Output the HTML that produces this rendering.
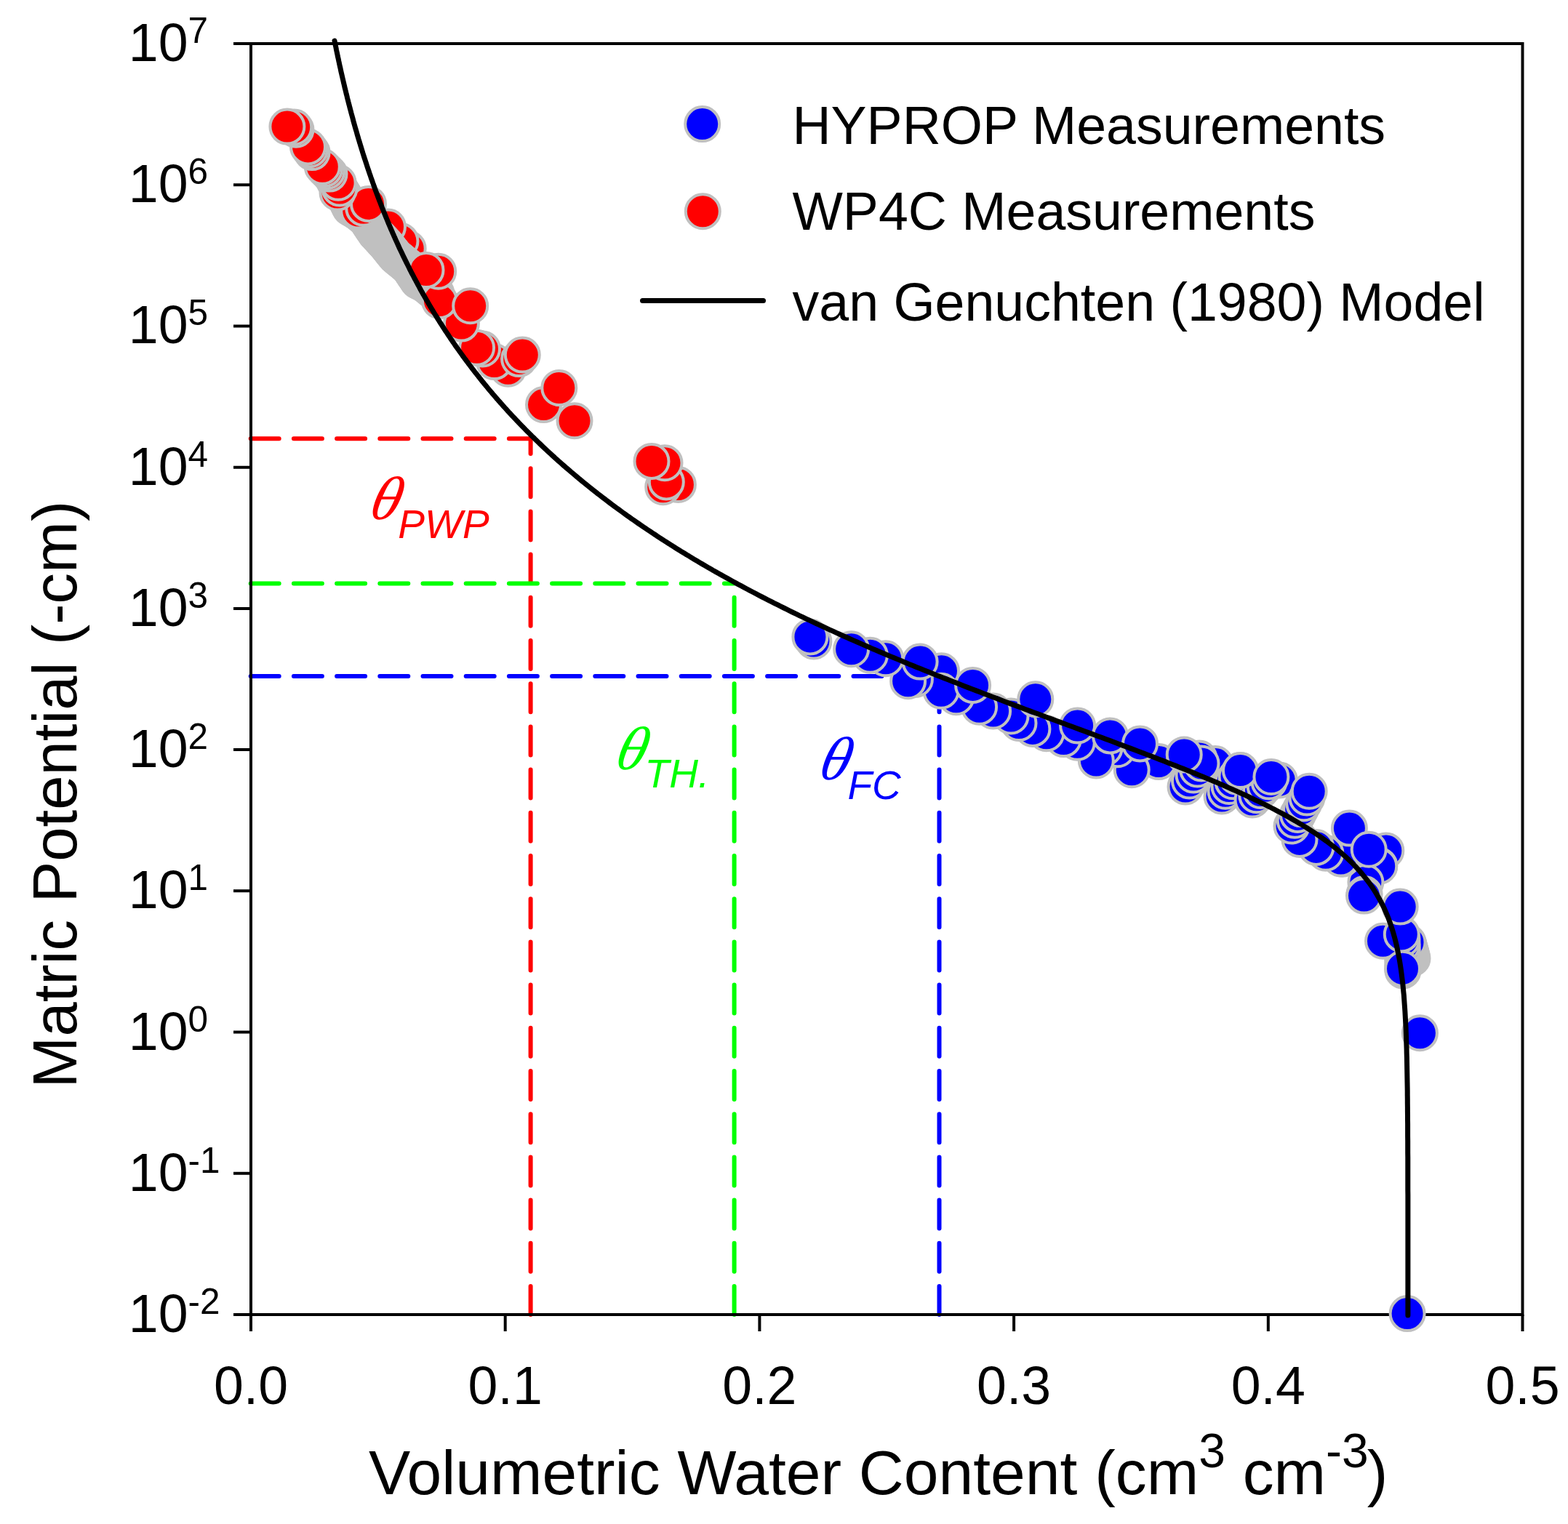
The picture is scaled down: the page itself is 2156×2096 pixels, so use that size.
<!DOCTYPE html>
<html><head><meta charset="utf-8"><title>Soil water retention curve</title>
<style>
html,body{margin:0;padding:0;background:#fff;width:2156px;height:2096px;overflow:hidden}
svg{display:block}
.t{font-size:73.5px}
.sup{font-size:49.5px}
.ax{font-size:85.8px}
.axs{font-size:66px}
.th{font-family:"Liberation Serif",serif;font-style:italic;font-size:84.6px}
.sub{font-family:"Liberation Sans",sans-serif;font-style:italic;font-size:55px}
</style></head><body>
<svg width="2156" height="2096" viewBox="0 0 2156 2096">
<rect width="2156" height="2096" fill="#fff"/>
<g fill="none" stroke-width="6" stroke-linecap="round" stroke-dasharray="39 20.2">
<path d="M344.7,603.2 H729.6" stroke="#ff0000"/>
<path d="M729.6,1808 V603.2" stroke="#ff0000"/>
<path d="M344.7,802.5 H1009.6" stroke="#00ff00"/>
<path d="M1009.6,1808 V802.5" stroke="#00ff00"/>
<path d="M344.7,929.9 H1291.5" stroke="#0000ff"/>
<path d="M1291.5,1808 V929.9" stroke="#0000ff"/>
</g>
<g fill="none" stroke="#000" stroke-width="4">
<rect x="345" y="60" width="1748.5" height="1748"/>
<path d="M321,60.0 H345 M321,254.2 H345 M321,448.4 H345 M321,642.7 H345 M321,836.9 H345 M321,1031.1 H345 M321,1225.3 H345 M321,1419.5 H345 M321,1613.8 H345 M321,1808.0 H345 M345.0,1808 V1831 M694.7,1808 V1831 M1044.4,1808 V1831 M1394.1,1808 V1831 M1743.8,1808 V1831 M2093.5,1808 V1831"/>
</g>
<g stroke="#c0c0c0" stroke-width="4"><circle cx="561.2" cy="342.0" r="23.5" fill="#ff0000"/><circle cx="551.0" cy="331.6" r="23.5" fill="#ff0000"/><circle cx="533.5" cy="312.0" r="23.5" fill="#ff0000"/><circle cx="459.4" cy="248.7" r="25.5" fill="#c0c0c0" stroke="none"/><circle cx="461.2" cy="251.3" r="25.5" fill="#c0c0c0" stroke="none"/><circle cx="463.0" cy="253.9" r="25.5" fill="#c0c0c0" stroke="none"/><circle cx="464.8" cy="256.5" r="25.5" fill="#c0c0c0" stroke="none"/><circle cx="466.6" cy="259.2" r="25.5" fill="#c0c0c0" stroke="none"/><circle cx="468.4" cy="261.8" r="25.5" fill="#c0c0c0" stroke="none"/><circle cx="470.2" cy="264.4" r="25.5" fill="#c0c0c0" stroke="none"/><circle cx="472.0" cy="267.0" r="25.5" fill="#c0c0c0" stroke="none"/><circle cx="473.3" cy="269.7" r="25.5" fill="#c0c0c0" stroke="none"/><circle cx="474.7" cy="272.4" r="25.5" fill="#c0c0c0" stroke="none"/><circle cx="476.0" cy="275.1" r="25.5" fill="#c0c0c0" stroke="none"/><circle cx="477.4" cy="277.8" r="25.5" fill="#c0c0c0" stroke="none"/><circle cx="478.7" cy="280.5" r="25.5" fill="#c0c0c0" stroke="none"/><circle cx="480.1" cy="283.2" r="25.5" fill="#c0c0c0" stroke="none"/><circle cx="481.4" cy="285.9" r="25.5" fill="#c0c0c0" stroke="none"/><circle cx="484.1" cy="287.5" r="25.5" fill="#c0c0c0" stroke="none"/><circle cx="486.8" cy="289.0" r="25.5" fill="#c0c0c0" stroke="none"/><circle cx="489.5" cy="290.6" r="25.5" fill="#c0c0c0" stroke="none"/><circle cx="492.2" cy="292.2" r="25.5" fill="#c0c0c0" stroke="none"/><circle cx="494.5" cy="294.1" r="25.5" fill="#c0c0c0" stroke="none"/><circle cx="496.7" cy="296.0" r="25.5" fill="#c0c0c0" stroke="none"/><circle cx="499.0" cy="297.8" r="25.5" fill="#c0c0c0" stroke="none"/><circle cx="501.2" cy="299.7" r="25.5" fill="#c0c0c0" stroke="none"/><circle cx="503.5" cy="301.6" r="25.5" fill="#c0c0c0" stroke="none"/><circle cx="505.1" cy="304.0" r="25.5" fill="#c0c0c0" stroke="none"/><circle cx="506.6" cy="306.3" r="25.5" fill="#c0c0c0" stroke="none"/><circle cx="508.2" cy="308.7" r="25.5" fill="#c0c0c0" stroke="none"/><circle cx="509.8" cy="311.1" r="25.5" fill="#c0c0c0" stroke="none"/><circle cx="511.4" cy="313.4" r="25.5" fill="#c0c0c0" stroke="none"/><circle cx="513.0" cy="315.8" r="25.5" fill="#c0c0c0" stroke="none"/><circle cx="514.5" cy="318.1" r="25.5" fill="#c0c0c0" stroke="none"/><circle cx="516.1" cy="320.5" r="25.5" fill="#c0c0c0" stroke="none"/><circle cx="518.2" cy="322.8" r="25.5" fill="#c0c0c0" stroke="none"/><circle cx="520.3" cy="325.0" r="25.5" fill="#c0c0c0" stroke="none"/><circle cx="522.4" cy="327.3" r="25.5" fill="#c0c0c0" stroke="none"/><circle cx="524.6" cy="329.6" r="25.5" fill="#c0c0c0" stroke="none"/><circle cx="526.7" cy="331.9" r="25.5" fill="#c0c0c0" stroke="none"/><circle cx="528.8" cy="334.1" r="25.5" fill="#c0c0c0" stroke="none"/><circle cx="530.9" cy="336.4" r="25.5" fill="#c0c0c0" stroke="none"/><circle cx="532.7" cy="338.7" r="25.5" fill="#c0c0c0" stroke="none"/><circle cx="534.5" cy="340.9" r="25.5" fill="#c0c0c0" stroke="none"/><circle cx="536.3" cy="343.2" r="25.5" fill="#c0c0c0" stroke="none"/><circle cx="538.1" cy="345.4" r="25.5" fill="#c0c0c0" stroke="none"/><circle cx="539.9" cy="347.7" r="25.5" fill="#c0c0c0" stroke="none"/><circle cx="541.7" cy="349.9" r="25.5" fill="#c0c0c0" stroke="none"/><circle cx="543.5" cy="352.2" r="25.5" fill="#c0c0c0" stroke="none"/><circle cx="545.9" cy="354.2" r="25.5" fill="#c0c0c0" stroke="none"/><circle cx="548.2" cy="356.1" r="25.5" fill="#c0c0c0" stroke="none"/><circle cx="550.6" cy="358.1" r="25.5" fill="#c0c0c0" stroke="none"/><circle cx="553.0" cy="360.0" r="25.5" fill="#c0c0c0" stroke="none"/><circle cx="555.3" cy="362.0" r="25.5" fill="#c0c0c0" stroke="none"/><circle cx="557.7" cy="364.0" r="25.5" fill="#c0c0c0" stroke="none"/><circle cx="560.0" cy="365.9" r="25.5" fill="#c0c0c0" stroke="none"/><circle cx="562.4" cy="367.9" r="25.5" fill="#c0c0c0" stroke="none"/><circle cx="564.0" cy="370.3" r="25.5" fill="#c0c0c0" stroke="none"/><circle cx="565.5" cy="372.6" r="25.5" fill="#c0c0c0" stroke="none"/><circle cx="567.1" cy="375.0" r="25.5" fill="#c0c0c0" stroke="none"/><circle cx="568.7" cy="377.4" r="25.5" fill="#c0c0c0" stroke="none"/><circle cx="570.3" cy="379.7" r="25.5" fill="#c0c0c0" stroke="none"/><circle cx="571.9" cy="382.1" r="25.5" fill="#c0c0c0" stroke="none"/><circle cx="573.4" cy="384.4" r="25.5" fill="#c0c0c0" stroke="none"/><circle cx="575.0" cy="386.8" r="25.5" fill="#c0c0c0" stroke="none"/><circle cx="578.1" cy="388.3" r="25.5" fill="#c0c0c0" stroke="none"/><circle cx="581.1" cy="389.7" r="25.5" fill="#c0c0c0" stroke="none"/><circle cx="584.2" cy="391.2" r="25.5" fill="#c0c0c0" stroke="none"/><circle cx="586.5" cy="393.0" r="25.5" fill="#c0c0c0" stroke="none"/><circle cx="588.7" cy="394.8" r="25.5" fill="#c0c0c0" stroke="none"/><circle cx="591.0" cy="396.6" r="25.5" fill="#c0c0c0" stroke="none"/><circle cx="593.2" cy="398.4" r="25.5" fill="#c0c0c0" stroke="none"/><circle cx="595.5" cy="400.2" r="25.5" fill="#c0c0c0" stroke="none"/><circle cx="597.7" cy="402.0" r="25.5" fill="#c0c0c0" stroke="none"/><circle cx="600.0" cy="403.8" r="25.5" fill="#c0c0c0" stroke="none"/><circle cx="932.4" cy="666.5" r="23.5" fill="#ff0000"/><circle cx="911.7" cy="669.7" r="23.5" fill="#ff0000"/><circle cx="916.3" cy="662.9" r="23.5" fill="#ff0000"/><circle cx="914.0" cy="636.8" r="23.5" fill="#ff0000"/><circle cx="896.0" cy="634.4" r="23.5" fill="#ff0000"/><circle cx="747.5" cy="556.6" r="23.5" fill="#ff0000"/><circle cx="768.8" cy="533.5" r="23.5" fill="#ff0000"/><circle cx="790.0" cy="578.7" r="23.5" fill="#ff0000"/><circle cx="698.6" cy="507.3" r="23.5" fill="#ff0000"/><circle cx="679.7" cy="497.6" r="23.5" fill="#ff0000"/><circle cx="713.6" cy="493.6" r="23.5" fill="#ff0000"/><circle cx="718.3" cy="488.1" r="23.5" fill="#ff0000"/><circle cx="663.5" cy="480.0" r="23.5" fill="#ff0000"/><circle cx="655.6" cy="478.2" r="23.5" fill="#ff0000"/><circle cx="634.4" cy="445.1" r="23.5" fill="#ff0000"/><circle cx="604.4" cy="413.6" r="23.5" fill="#ff0000"/><circle cx="646.7" cy="420.7" r="23.5" fill="#ff0000"/><circle cx="602.7" cy="373.2" r="23.5" fill="#ff0000"/><circle cx="586.0" cy="371.5" r="23.5" fill="#ff0000"/><circle cx="492.7" cy="290.1" r="23.5" fill="#ff0000"/><circle cx="499.7" cy="286.3" r="23.5" fill="#ff0000"/><circle cx="506.5" cy="280.4" r="23.5" fill="#ff0000"/><circle cx="464.0" cy="265.0" r="23.5" fill="#ff0000"/><circle cx="467.0" cy="259.0" r="23.5" fill="#ff0000"/><circle cx="465.1" cy="251.3" r="23.5" fill="#ff0000"/><circle cx="453.0" cy="239.1" r="23.5" fill="#ff0000"/><circle cx="449.8" cy="235.8" r="23.5" fill="#ff0000"/><circle cx="446.5" cy="232.6" r="23.5" fill="#ff0000"/><circle cx="443.3" cy="229.3" r="23.5" fill="#ff0000"/><circle cx="429.1" cy="209.6" r="23.5" fill="#ff0000"/><circle cx="426.3" cy="205.7" r="23.5" fill="#ff0000"/><circle cx="423.5" cy="201.9" r="23.5" fill="#ff0000"/><circle cx="407.0" cy="178.3" r="23.5" fill="#ff0000"/><circle cx="404.7" cy="175.0" r="23.5" fill="#ff0000"/><circle cx="394.9" cy="174.1" r="23.5" fill="#ff0000"/><circle cx="1905.8" cy="1169.9" r="23.5" fill="#0000ff"/><circle cx="1896.8" cy="1190.6" r="23.5" fill="#0000ff"/><circle cx="1896.7" cy="1191.3" r="23.5" fill="#0000ff"/><circle cx="1877.9" cy="1213.2" r="23.5" fill="#0000ff"/><circle cx="1876.1" cy="1229.5" r="23.5" fill="#0000ff"/><circle cx="1846.0" cy="1181.2" r="23.5" fill="#0000ff"/><circle cx="1843.5" cy="1181.0" r="23.5" fill="#0000ff"/><circle cx="1822.8" cy="1173.3" r="23.5" fill="#0000ff"/><circle cx="1809.8" cy="1165.4" r="23.5" fill="#0000ff"/><circle cx="1787.0" cy="1154.4" r="23.5" fill="#0000ff"/><circle cx="1759.3" cy="1073.0" r="23.5" fill="#0000ff"/><circle cx="1705.4" cy="1059.6" r="23.5" fill="#0000ff"/><circle cx="1671.0" cy="1050.6" r="23.5" fill="#0000ff"/><circle cx="1649.0" cy="1043.0" r="23.5" fill="#0000ff"/><circle cx="1593.2" cy="1047.6" r="23.5" fill="#0000ff"/><circle cx="1556.2" cy="1058.7" r="23.5" fill="#0000ff"/><circle cx="1536.5" cy="1030.8" r="23.5" fill="#0000ff"/><circle cx="1519.0" cy="1028.7" r="23.5" fill="#0000ff"/><circle cx="1507.3" cy="1046.0" r="23.5" fill="#0000ff"/><circle cx="1481.3" cy="1021.3" r="23.5" fill="#0000ff"/><circle cx="1462.4" cy="1016.6" r="23.5" fill="#0000ff"/><circle cx="1438.8" cy="1008.7" r="23.5" fill="#0000ff"/><circle cx="1419.9" cy="1002.4" r="23.5" fill="#0000ff"/><circle cx="1401.0" cy="994.5" r="23.5" fill="#0000ff"/><circle cx="1390.0" cy="985.0" r="23.5" fill="#0000ff"/><circle cx="1365.6" cy="978.0" r="23.5" fill="#0000ff"/><circle cx="1346.6" cy="972.3" r="23.5" fill="#0000ff"/><circle cx="1314.8" cy="958.8" r="23.5" fill="#0000ff"/><circle cx="1294.5" cy="922.7" r="23.5" fill="#0000ff"/><circle cx="1294.0" cy="950.2" r="23.5" fill="#0000ff"/><circle cx="1258.4" cy="934.3" r="23.5" fill="#0000ff"/><circle cx="1248.6" cy="936.8" r="23.5" fill="#0000ff"/><circle cx="1217.8" cy="905.8" r="23.5" fill="#0000ff"/><circle cx="1196.4" cy="901.3" r="23.5" fill="#0000ff"/><circle cx="1118.9" cy="882.0" r="23.5" fill="#0000ff"/><circle cx="1630.0" cy="1082.0" r="23.5" fill="#0000ff"/><circle cx="1635.5" cy="1074.0" r="23.5" fill="#0000ff"/><circle cx="1641.0" cy="1066.0" r="23.5" fill="#0000ff"/><circle cx="1646.5" cy="1058.0" r="23.5" fill="#0000ff"/><circle cx="1652.0" cy="1050.0" r="23.5" fill="#0000ff"/><circle cx="1680.0" cy="1095.0" r="23.5" fill="#0000ff"/><circle cx="1685.0" cy="1088.2" r="23.5" fill="#0000ff"/><circle cx="1690.0" cy="1081.5" r="23.5" fill="#0000ff"/><circle cx="1695.0" cy="1074.8" r="23.5" fill="#0000ff"/><circle cx="1700.0" cy="1068.0" r="23.5" fill="#0000ff"/><circle cx="1722.0" cy="1100.0" r="23.5" fill="#0000ff"/><circle cx="1727.8" cy="1093.8" r="23.5" fill="#0000ff"/><circle cx="1733.5" cy="1087.5" r="23.5" fill="#0000ff"/><circle cx="1739.2" cy="1081.2" r="23.5" fill="#0000ff"/><circle cx="1745.0" cy="1075.0" r="23.5" fill="#0000ff"/><circle cx="1776.0" cy="1136.0" r="23.5" fill="#0000ff"/><circle cx="1780.2" cy="1128.2" r="23.5" fill="#0000ff"/><circle cx="1784.4" cy="1120.4" r="23.5" fill="#0000ff"/><circle cx="1788.6" cy="1112.6" r="23.5" fill="#0000ff"/><circle cx="1792.8" cy="1104.8" r="23.5" fill="#0000ff"/><circle cx="1797.0" cy="1097.0" r="23.5" fill="#0000ff"/><circle cx="1942.0" cy="1318.0" r="23.5" fill="#0000ff"/><circle cx="1941.2" cy="1315.2" r="23.5" fill="#0000ff"/><circle cx="1940.5" cy="1312.5" r="23.5" fill="#0000ff"/><circle cx="1939.8" cy="1309.8" r="23.5" fill="#0000ff"/><circle cx="1939.0" cy="1307.0" r="23.5" fill="#0000ff"/><circle cx="1938.2" cy="1304.2" r="23.5" fill="#0000ff"/><circle cx="1937.5" cy="1301.5" r="23.5" fill="#0000ff"/><circle cx="1936.8" cy="1298.8" r="23.5" fill="#0000ff"/><circle cx="1936.0" cy="1296.0" r="23.5" fill="#0000ff"/><circle cx="1929.0" cy="1335.0" r="23.5" fill="#0000ff"/><circle cx="1928.8" cy="1327.8" r="23.5" fill="#0000ff"/><circle cx="1928.7" cy="1320.7" r="23.5" fill="#0000ff"/><circle cx="1928.5" cy="1313.5" r="23.5" fill="#0000ff"/><circle cx="1928.3" cy="1306.3" r="23.5" fill="#0000ff"/><circle cx="1928.2" cy="1299.2" r="23.5" fill="#0000ff"/><circle cx="1928.0" cy="1292.0" r="23.5" fill="#0000ff"/><circle cx="1113.9" cy="875.9" r="23.5" fill="#0000ff"/><circle cx="1170.6" cy="892.8" r="23.5" fill="#0000ff"/><circle cx="1265.1" cy="910.1" r="23.5" fill="#0000ff"/><circle cx="1337.6" cy="942.4" r="23.5" fill="#0000ff"/><circle cx="1423.8" cy="961.8" r="23.5" fill="#0000ff"/><circle cx="1481.6" cy="998.0" r="23.5" fill="#0000ff"/><circle cx="1526.5" cy="1011.9" r="23.5" fill="#0000ff"/><circle cx="1567.5" cy="1022.9" r="23.5" fill="#0000ff"/><circle cx="1628.2" cy="1037.9" r="23.5" fill="#0000ff"/><circle cx="1705.4" cy="1059.6" r="23.5" fill="#0000ff"/><circle cx="1747.9" cy="1068.5" r="23.5" fill="#0000ff"/><circle cx="1800.2" cy="1088.2" r="23.5" fill="#0000ff"/><circle cx="1855.4" cy="1139.1" r="23.5" fill="#0000ff"/><circle cx="1882.2" cy="1168.3" r="23.5" fill="#0000ff"/><circle cx="1875.5" cy="1232.1" r="23.5" fill="#0000ff"/><circle cx="1901.5" cy="1294.2" r="23.5" fill="#0000ff"/><circle cx="1927.3" cy="1284.9" r="23.5" fill="#0000ff"/><circle cx="1925.2" cy="1247.1" r="23.5" fill="#0000ff"/><circle cx="1928.5" cy="1332.3" r="23.5" fill="#0000ff"/><circle cx="1952.4" cy="1420.8" r="23.5" fill="#0000ff"/><circle cx="1935.1" cy="1806.6" r="23.5" fill="#0000ff"/></g>
<path d="M1935.9,1809.0 L1935.9,1803.2 L1935.9,1797.5 L1935.9,1791.8 L1935.9,1786.1 L1935.9,1780.3 L1935.9,1774.6 L1935.9,1768.9 L1935.9,1763.2 L1935.9,1757.5 L1935.9,1751.7 L1935.9,1746.0 L1935.9,1740.3 L1935.9,1734.6 L1935.9,1728.9 L1935.9,1723.1 L1935.9,1717.4 L1935.9,1711.7 L1935.9,1706.0 L1935.9,1700.3 L1935.9,1694.5 L1935.9,1688.8 L1935.9,1683.1 L1935.9,1677.4 L1935.9,1671.7 L1935.9,1665.9 L1935.9,1660.2 L1935.9,1654.5 L1935.9,1648.8 L1935.9,1643.1 L1935.8,1637.3 L1935.8,1631.6 L1935.8,1625.9 L1935.8,1620.2 L1935.8,1614.5 L1935.8,1608.7 L1935.8,1603.0 L1935.8,1597.3 L1935.8,1591.6 L1935.7,1585.9 L1935.7,1580.1 L1935.7,1574.4 L1935.7,1568.7 L1935.6,1563.0 L1935.6,1557.2 L1935.6,1551.5 L1935.6,1545.8 L1935.5,1540.1 L1935.5,1534.4 L1935.4,1528.6 L1935.4,1522.9 L1935.3,1517.2 L1935.3,1511.5 L1935.2,1505.8 L1935.2,1500.0 L1935.1,1494.3 L1935.0,1488.6 L1934.9,1482.9 L1934.8,1477.2 L1934.7,1471.4 L1934.6,1465.7 L1934.5,1460.0 L1934.4,1454.3 L1934.2,1448.6 L1934.1,1442.8 L1933.9,1437.1 L1933.7,1431.4 L1933.5,1425.7 L1933.3,1420.0 L1933.1,1414.2 L1932.8,1408.5 L1932.5,1402.8 L1932.2,1397.1 L1931.9,1391.4 L1931.5,1385.6 L1931.1,1379.9 L1930.7,1374.2 L1930.3,1368.5 L1929.7,1362.8 L1929.2,1357.0 L1928.6,1351.3 L1927.9,1345.6 L1927.2,1339.9 L1926.4,1334.1 L1925.6,1328.4 L1924.7,1322.7 L1923.7,1317.0 L1922.6,1311.3 L1921.4,1305.5 L1920.2,1299.8 L1918.8,1294.1 L1917.3,1288.4 L1915.7,1282.7 L1913.9,1276.9 L1912.0,1271.2 L1910.0,1265.5 L1907.8,1259.8 L1905.4,1254.1 L1902.8,1248.3 L1900.0,1242.6 L1897.0,1236.9 L1893.7,1231.2 L1890.2,1225.5 L1886.5,1219.7 L1882.5,1214.0 L1878.1,1208.3 L1873.5,1202.6 L1868.6,1196.9 L1863.3,1191.1 L1857.7,1185.4 L1851.7,1179.7 L1845.3,1174.0 L1838.6,1168.3 L1831.4,1162.5 L1823.9,1156.8 L1815.9,1151.1 L1807.5,1145.4 L1798.7,1139.7 L1789.4,1133.9 L1779.7,1128.2 L1776.0,1126.1 L1772.2,1123.9 L1768.3,1121.8 L1764.4,1119.6 L1760.4,1117.5 L1756.3,1115.3 L1752.2,1113.2 L1748.0,1111.0 L1743.8,1108.9 L1739.5,1106.7 L1735.2,1104.6 L1730.8,1102.4 L1726.3,1100.3 L1721.8,1098.1 L1717.3,1096.0 L1712.7,1093.8 L1708.0,1091.7 L1703.3,1089.5 L1698.5,1087.4 L1693.7,1085.2 L1688.8,1083.1 L1683.9,1080.9 L1679.0,1078.8 L1674.0,1076.6 L1668.9,1074.5 L1663.8,1072.3 L1658.7,1070.2 L1653.5,1068.1 L1648.3,1065.9 L1643.1,1063.8 L1637.8,1061.6 L1632.5,1059.5 L1627.1,1057.3 L1621.7,1055.2 L1616.3,1053.0 L1610.8,1050.9 L1605.3,1048.7 L1599.8,1046.6 L1594.3,1044.4 L1588.7,1042.3 L1583.1,1040.1 L1577.5,1038.0 L1571.9,1035.8 L1566.3,1033.7 L1560.6,1031.5 L1554.9,1029.4 L1549.2,1027.2 L1543.5,1025.1 L1537.7,1022.9 L1532.0,1020.8 L1526.2,1018.6 L1520.5,1016.5 L1514.7,1014.3 L1508.9,1012.2 L1503.1,1010.0 L1497.3,1007.9 L1491.5,1005.7 L1485.7,1003.6 L1479.9,1001.4 L1474.1,999.3 L1468.3,997.2 L1462.5,995.0 L1456.7,992.9 L1450.9,990.7 L1445.1,988.6 L1439.3,986.4 L1433.5,984.3 L1427.7,982.1 L1421.9,980.0 L1416.2,977.8 L1410.4,975.7 L1404.7,973.5 L1398.9,971.4 L1393.2,969.2 L1387.5,967.1 L1381.8,964.9 L1376.1,962.8 L1370.4,960.6 L1364.8,958.5 L1359.1,956.3 L1353.5,954.2 L1347.9,952.0 L1342.3,949.9 L1336.7,947.7 L1331.1,945.6 L1325.6,943.4 L1320.1,941.3 L1314.6,939.1 L1309.1,937.0 L1303.6,934.8 L1298.2,932.7 L1292.7,930.5 L1287.3,928.4 L1282.0,926.3 L1276.6,924.1 L1271.3,922.0 L1265.9,919.8 L1260.6,917.7 L1255.4,915.5 L1250.1,913.4 L1244.9,911.2 L1239.7,909.1 L1234.5,906.9 L1229.4,904.8 L1224.2,902.6 L1219.1,900.5 L1214.0,898.3 L1209.0,896.2 L1204.0,894.0 L1198.9,891.9 L1194.0,889.7 L1189.0,887.6 L1184.1,885.4 L1179.2,883.3 L1174.3,881.1 L1169.4,879.0 L1164.6,876.8 L1159.8,874.7 L1155.0,872.5 L1150.2,870.4 L1145.5,868.2 L1140.8,866.1 L1136.1,863.9 L1131.5,861.8 L1126.8,859.6 L1122.2,857.5 L1117.7,855.4 L1113.1,853.2 L1108.6,851.1 L1104.1,848.9 L1099.6,846.8 L1095.2,844.6 L1090.7,842.5 L1086.3,840.3 L1082.0,838.2 L1077.6,836.0 L1073.3,833.9 L1069.0,831.7 L1064.7,829.6 L1060.5,827.4 L1056.3,825.3 L1052.1,823.1 L1047.9,821.0 L1043.7,818.8 L1039.6,816.7 L1035.5,814.5 L1031.4,812.4 L1027.4,810.2 L1023.4,808.1 L1019.4,805.9 L1015.4,803.8 L1011.4,801.6 L1007.5,799.5 L1003.6,797.3 L999.7,795.2 L995.8,793.0 L992.0,790.9 L988.2,788.7 L984.4,786.6 L980.6,784.5 L976.9,782.3 L973.2,780.2 L969.5,778.0 L965.8,775.9 L962.1,773.7 L958.5,771.6 L954.9,769.4 L951.3,767.3 L947.8,765.1 L944.2,763.0 L940.7,760.8 L937.2,758.7 L933.7,756.5 L930.3,754.4 L926.9,752.2 L923.4,750.1 L920.1,747.9 L916.7,745.8 L913.3,743.6 L910.0,741.5 L906.7,739.3 L903.4,737.2 L900.2,735.0 L896.9,732.9 L893.7,730.7 L890.5,728.6 L887.3,726.4 L884.2,724.3 L881.0,722.1 L877.9,720.0 L874.8,717.8 L871.7,715.7 L868.6,713.6 L865.6,711.4 L862.6,709.3 L859.6,707.1 L856.6,705.0 L853.6,702.8 L850.7,700.7 L847.7,698.5 L844.8,696.4 L841.9,694.2 L839.1,692.1 L836.2,689.9 L833.4,687.8 L830.6,685.6 L827.8,683.5 L825.0,681.3 L822.2,679.2 L819.5,677.0 L816.7,674.9 L814.0,672.7 L811.3,670.6 L808.6,668.4 L806.0,666.3 L803.3,664.1 L800.7,662.0 L798.1,659.8 L795.5,657.7 L792.9,655.5 L790.4,653.4 L787.8,651.2 L785.3,649.1 L782.8,646.9 L780.3,644.8 L777.8,642.7 L775.3,640.5 L772.9,638.4 L770.4,636.2 L768.0,634.1 L765.6,631.9 L763.2,629.8 L760.9,627.6 L758.5,625.5 L756.2,623.3 L753.8,621.2 L751.5,619.0 L749.2,616.9 L746.9,614.7 L744.7,612.6 L742.4,610.4 L740.2,608.3 L738.0,606.1 L735.8,604.0 L733.6,601.8 L731.4,599.7 L729.2,597.5 L727.1,595.4 L724.9,593.2 L722.8,591.1 L720.7,588.9 L718.6,586.8 L716.5,584.6 L714.4,582.5 L712.4,580.3 L710.3,578.2 L708.3,576.0 L706.3,573.9 L704.3,571.8 L702.3,569.6 L700.3,567.5 L698.3,565.3 L696.4,563.2 L694.4,561.0 L692.5,558.9 L690.6,556.7 L688.7,554.6 L686.8,552.4 L684.9,550.3 L683.0,548.1 L681.2,546.0 L679.3,543.8 L677.5,541.7 L675.7,539.5 L673.8,537.4 L672.0,535.2 L670.3,533.1 L668.5,530.9 L666.7,528.8 L665.0,526.6 L663.2,524.5 L661.5,522.3 L659.8,520.2 L658.1,518.0 L656.4,515.9 L654.7,513.7 L653.0,511.6 L651.3,509.4 L649.7,507.3 L648.0,505.1 L646.4,503.0 L644.8,500.9 L643.2,498.7 L641.6,496.6 L640.0,494.4 L638.4,492.3 L636.8,490.1 L635.3,488.0 L633.7,485.8 L632.2,483.7 L630.7,481.5 L629.1,479.4 L627.6,477.2 L626.1,475.1 L624.6,472.9 L623.1,470.8 L621.7,468.6 L620.2,466.5 L618.8,464.3 L617.3,462.2 L615.9,460.0 L614.5,457.9 L613.0,455.7 L611.6,453.6 L610.2,451.4 L608.8,449.3 L607.5,447.1 L606.1,445.0 L604.7,442.8 L603.4,440.7 L602.0,438.5 L600.7,436.4 L599.4,434.2 L598.0,432.1 L596.7,430.0 L595.4,427.8 L594.1,425.7 L592.8,423.5 L591.6,421.4 L590.3,419.2 L589.0,417.1 L587.8,414.9 L586.5,412.8 L585.3,410.6 L584.1,408.5 L582.8,406.3 L581.6,404.2 L580.4,402.0 L579.2,399.9 L578.0,397.7 L576.9,395.6 L575.7,393.4 L574.5,391.3 L573.4,389.1 L572.2,387.0 L571.1,384.8 L569.9,382.7 L568.8,380.5 L567.7,378.4 L566.5,376.2 L565.4,374.1 L564.3,371.9 L563.2,369.8 L562.2,367.6 L561.1,365.5 L560.0,363.3 L558.9,361.2 L557.9,359.1 L556.8,356.9 L555.8,354.8 L554.7,352.6 L553.7,350.5 L552.7,348.3 L551.7,346.2 L550.6,344.0 L549.6,341.9 L548.6,339.7 L547.6,337.6 L546.7,335.4 L545.7,333.3 L544.7,331.1 L543.7,329.0 L542.8,326.8 L541.8,324.7 L540.9,322.5 L539.9,320.4 L539.0,318.2 L538.0,316.1 L537.1,313.9 L536.2,311.8 L535.3,309.6 L534.4,307.5 L533.5,305.3 L532.6,303.2 L531.7,301.0 L530.8,298.9 L529.9,296.7 L529.1,294.6 L528.2,292.4 L527.3,290.3 L526.5,288.2 L525.6,286.0 L524.8,283.9 L523.9,281.7 L523.1,279.6 L522.3,277.4 L521.4,275.3 L520.6,273.1 L519.8,271.0 L519.0,268.8 L518.2,266.7 L517.4,264.5 L516.6,262.4 L515.8,260.2 L515.0,258.1 L514.3,255.9 L513.5,253.8 L512.7,251.6 L512.0,249.5 L511.2,247.3 L510.4,245.2 L509.7,243.0 L509.0,240.9 L508.2,238.7 L507.5,236.6 L506.8,234.4 L506.0,232.3 L505.3,230.1 L504.6,228.0 L503.9,225.8 L503.2,223.7 L502.5,221.5 L501.8,219.4 L501.1,217.3 L500.4,215.1 L499.7,213.0 L499.0,210.8 L498.4,208.7 L497.7,206.5 L497.0,204.4 L496.4,202.2 L495.7,200.1 L495.1,197.9 L494.4,195.8 L493.8,193.6 L493.1,191.5 L492.5,189.3 L491.8,187.2 L491.2,185.0 L490.6,182.9 L490.0,180.7 L489.4,178.6 L488.7,176.4 L488.1,174.3 L487.5,172.1 L486.9,170.0 L486.3,167.8 L485.7,165.7 L485.2,163.5 L484.6,161.4 L484.0,159.2 L483.4,157.1 L482.8,154.9 L482.3,152.8 L481.7,150.6 L481.1,148.5 L480.6,146.4 L480.0,144.2 L479.5,142.1 L478.9,139.9 L478.4,137.8 L477.8,135.6 L477.3,133.5 L476.8,131.3 L476.2,129.2 L475.7,127.0 L475.2,124.9 L474.6,122.7 L474.1,120.6 L473.6,118.4 L473.1,116.3 L472.6,114.1 L472.1,112.0 L471.6,109.8 L471.1,107.7 L470.6,105.5 L470.1,103.4 L469.6,101.2 L469.1,99.1 L468.6,96.9 L468.2,94.8 L467.7,92.6 L467.2,90.5 L466.7,88.3 L466.3,86.2 L465.8,84.0 L465.4,81.9 L464.9,79.7 L464.4,77.6 L464.0,75.5 L463.5,73.3 L463.1,71.2 L462.6,69.0 L462.2,66.9 L461.8,64.7 L461.3,62.6 L460.9,60.4 L460.5,58.3 L460.0,56.1" fill="none" stroke="#000" stroke-width="7" stroke-linejoin="round" stroke-linecap="round"/>
<g font-family="Liberation Sans, Arial, sans-serif" fill="#000">
<text x="176.8" y="84.0" class="t">10<tspan class="sup" dy="-25">7</tspan></text>
<text x="176.8" y="278.2" class="t">10<tspan class="sup" dy="-25">6</tspan></text>
<text x="176.8" y="472.4" class="t">10<tspan class="sup" dy="-25">5</tspan></text>
<text x="176.8" y="666.7" class="t">10<tspan class="sup" dy="-25">4</tspan></text>
<text x="176.8" y="860.9" class="t">10<tspan class="sup" dy="-25">3</tspan></text>
<text x="176.8" y="1055.1" class="t">10<tspan class="sup" dy="-25">2</tspan></text>
<text x="176.8" y="1249.3" class="t">10<tspan class="sup" dy="-25">1</tspan></text>
<text x="176.8" y="1443.5" class="t">10<tspan class="sup" dy="-25">0</tspan></text>
<text x="176.8" y="1637.8" class="t">10<tspan class="sup" dy="-25">-1</tspan></text>
<text x="176.8" y="1832.0" class="t">10<tspan class="sup" dy="-25">-2</tspan></text>

<text x="345.0" y="1930.5" class="t" text-anchor="middle">0.0</text>
<text x="694.7" y="1930.5" class="t" text-anchor="middle">0.1</text>
<text x="1044.4" y="1930.5" class="t" text-anchor="middle">0.2</text>
<text x="1394.1" y="1930.5" class="t" text-anchor="middle">0.3</text>
<text x="1743.8" y="1930.5" class="t" text-anchor="middle">0.4</text>
<text x="2093.5" y="1930.5" class="t" text-anchor="middle">0.5</text>

<text x="1089.5" y="198.3" class="t">HYPROP Measurements</text>
<text x="1089.5" y="316.4" class="t">WP4C Measurements</text>
<text x="1089.5" y="440.7" class="t">van Genuchten (1980) Model</text>
<text x="507" y="2054.5" class="ax">Volumetric Water Content (cm<tspan class="axs" dy="-37">3</tspan><tspan dy="37"> cm</tspan><tspan class="axs" dy="-37">-3</tspan><tspan dy="37" dx="-2">)</tspan></text>
<text transform="translate(105.3,1496.4) rotate(-90)" class="ax" style="font-size:85px">Matric Potential (-cm)</text>
</g>
<circle cx="965.7" cy="170.6" r="23.5" fill="#0000ff" stroke="#c0c0c0" stroke-width="4"/>
<circle cx="966.3" cy="290.8" r="23.5" fill="#ff0000" stroke="#c0c0c0" stroke-width="4"/>
<path d="M883.5,413.5 H1049.5" stroke="#000" stroke-width="7" stroke-linecap="round"/>
<g fill="#ff0000"><text transform="translate(505.2,714.1) skewX(-14)" class="th">&#952;</text><text x="547.3" y="740.3" class="sub">PWP</text></g>
<g fill="#00ff00"><text transform="translate(843.3,1057.8) skewX(-14)" class="th">&#952;</text><text x="886.6" y="1083.3" class="sub">TH.</text></g>
<g fill="#0000ff"><text transform="translate(1123.3,1072.1) skewX(-14)" class="th">&#952;</text><text x="1165.5" y="1099" class="sub">FC</text></g>
</svg>
</body></html>
